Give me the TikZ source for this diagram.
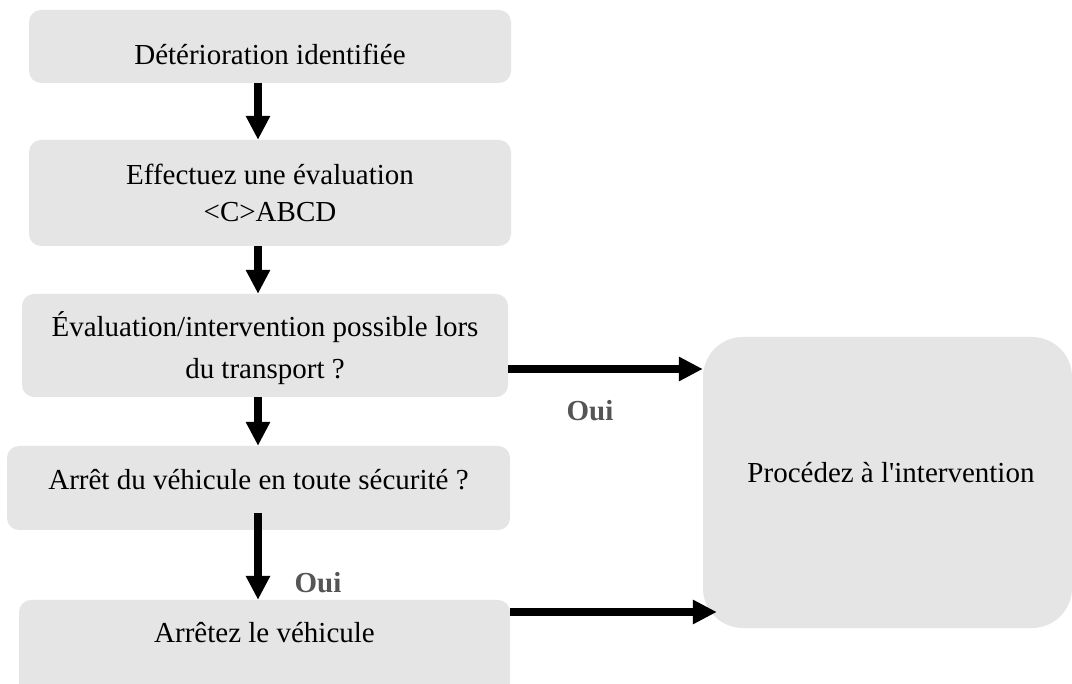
\documentclass[tikz,border=0pt]{standalone}
\usepackage{fontspec}
\setmainfont{Liberation Serif}
\usetikzlibrary{arrows.meta}

\definecolor{cardgray}{RGB}{229,229,229}
\definecolor{ouigray}{RGB}{85,85,85}

% body text size and a helper that moves a label vertically inside its card
\newcommand\mainsz{\fontsize{29}{37}\selectfont}
\newcommand\shifttext[2]{\raisebox{#1}[0pt][0pt]{#2}}

\tikzset{
  card/.style={fill=cardgray, draw=none, rounded corners=12pt, inner sep=0pt, font=\mainsz},
  bigcard/.style={card, rounded corners=40pt},
  arr/.style={line width=7.5pt, -{Triangle[width=23pt,length=24pt]}},
  oui/.style={font=\mainsz\bfseries, text=ouigray, anchor=base, inner sep=0pt},
}

\begin{document}
\begin{tikzpicture}[x=1pt, y=-1pt]
  \useasboundingbox (0,0) rectangle (1072,684);
  \fill[white] (0,0) rectangle (1072,684);

  % main column of steps
  \node[card, minimum width=482pt, minimum height=73pt] (b1) at (270,46.5)
    {\shifttext{-18.5pt}{Détérioration identifiée}};
  \node[card, minimum width=482pt, minimum height=106pt] (b2) at (270,193)
    {\shifttext{-29pt}{\begin{tabular}[b]{@{}c@{}}Effectuez une évaluation\\<C>ABCD\end{tabular}}};
  \node[card, minimum width=486pt, minimum height=103pt] (b3) at (265,345.5)
    {\fontsize{29}{42}\selectfont\shifttext{-33pt}{\begin{tabular}[b]{@{}c@{}}Évaluation/intervention possible lors\\du transport ?\end{tabular}}};
  \node[card, minimum width=503pt, minimum height=84pt] (b4) at (258.5,488)
    {\shifttext{-2pt}{Arrêt du véhicule en toute sécurité ?}};
  \node[card, minimum width=491pt, minimum height=100pt] (b5) at (264.5,650)
    {\shifttext{8pt}{Arrêtez le véhicule}};

  % action box on the right
  \node[bigcard, minimum width=369pt, minimum height=291pt] (b6) at (887.5,482.5)
    {\shifttext{0pt}{\hspace*{7pt}Procédez à l\textquotesingle intervention}};

  % guide positions for the connectors
  \coordinate (col) at (258,0);
  \coordinate (rowA) at (0,369);
  \coordinate (rowB) at (0,612);

  % vertical flow
  \draw[arr] (b1.south -| col) -- (b2.north -| col);
  \draw[arr] (b2.south -| col) -- (b3.north -| col);
  \draw[arr] (b3.south -| col) -- (b4.north -| col);
  \draw[arr] ([yshift=17pt]b4.south -| col) -- (b5.north -| col);

  % links to the action box
  \draw[arr] (b3.east |- rowA) -- (b6.west |- rowA);
  \draw[arr] (b5.east |- rowB) -- ([xshift=14pt]b6.west |- rowB);

  % answer labels
  \node[oui] (oui1) at (590,421) {Oui};
  \node[oui] (oui2) at (318,593) {Oui};
\end{tikzpicture}
\end{document}
